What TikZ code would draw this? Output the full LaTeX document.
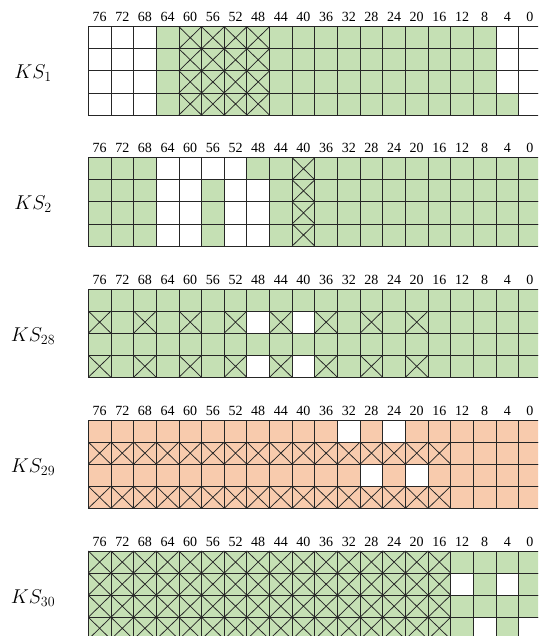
\RequirePackage{fix-cm}
\documentclass[tikz,border=0pt]{standalone}
\usepackage{fontspec}
\setmainfont{Liberation Serif}
\definecolor{kgreen}{HTML}{C5E0B4}
\definecolor{korange}{HTML}{F8CBAD}
\tikzset{
  cellbox/.style={draw=black!85, line width=0.75pt},
  collab/.style={inner sep=0pt, anchor=base, font=\fontsize{14}{16}\selectfont},
  kslab/.style={inner sep=0pt, anchor=base, font=\fontsize{20}{24}\selectfont}
}
\newcommand{\kgrid}[5]{%
  \colorlet{cellfill}{#3}%
  \foreach \rw [count=\r from 0] in {#4} {
    \foreach \c [count=\i from 0] in \rw {
      \pgfmathsetmacro\xx{88.3+\i*22.65}
      \pgfmathsetmacro\yy{#2+\r*22.08}
      \if w\c \draw[cellbox, fill=white] (\xx,\yy) rectangle ++(22.65,22.08);\fi
      \if g\c \draw[cellbox, fill=cellfill] (\xx,\yy) rectangle ++(22.65,22.08);\fi
      \if x\c \draw[cellbox, fill=cellfill] (\xx,\yy) rectangle ++(22.65,22.08);
              \draw[cellbox] (\xx,\yy) -- ++(22.65,22.08) (\xx+22.65,\yy) -- ++(-22.65,22.08);\fi
    }
  }
  \foreach \lab [count=\i from 0] in {76,72,...,0} {
    \node[collab] (#1-l\i) at (88.3+\i*22.65+11.325, #2-4.8) {\lab};
  }
  \node[kslab] (#1) at (33, #2+52) {$KS_{#5}$};
}
\begin{document}
\begin{tikzpicture}[x=1pt,y=-1pt]
\useasboundingbox (0,0) rectangle (538,636);
\clip (0,0) rectangle (538,636);
\kgrid{ks1}{26.7}{kgreen}{
 {w,w,w,g,x,x,x,x,g,g,g,g,g,g,g,g,g,g,w,w},
 {w,w,w,g,x,x,x,x,g,g,g,g,g,g,g,g,g,g,w,w},
 {w,w,w,g,x,x,x,x,g,g,g,g,g,g,g,g,g,g,w,w},
 {w,w,w,g,x,x,x,x,g,g,g,g,g,g,g,g,g,g,g,w}}{1}
\kgrid{ks2}{157.7}{kgreen}{
 {g,g,g,w,w,w,w,g,g,x,g,g,g,g,g,g,g,g,g,g},
 {g,g,g,w,w,g,w,w,g,x,g,g,g,g,g,g,g,g,g,g},
 {g,g,g,w,w,g,w,w,g,x,g,g,g,g,g,g,g,g,g,g},
 {g,g,g,w,w,g,w,w,g,x,g,g,g,g,g,g,g,g,g,g}}{2}
\kgrid{ks28}{289.0}{kgreen}{
 {g,g,g,g,g,g,g,g,g,g,g,g,g,g,g,g,g,g,g,g},
 {x,g,x,g,x,g,x,w,x,w,x,g,x,g,x,g,g,g,g,g},
 {g,g,g,g,g,g,g,g,g,g,g,g,g,g,g,g,g,g,g,g},
 {x,g,x,g,x,g,x,w,x,w,x,g,x,g,x,g,g,g,g,g}}{28}
\kgrid{ks29}{420.0}{korange}{
 {g,g,g,g,g,g,g,g,g,g,g,w,g,w,g,g,g,g,g,g},
 {x,x,x,x,x,x,x,x,x,x,x,x,x,x,x,x,g,g,g,g},
 {g,g,g,g,g,g,g,g,g,g,g,g,w,g,w,g,g,g,g,g},
 {x,x,x,x,x,x,x,x,x,x,x,x,x,x,x,x,g,g,g,g}}{29}
\kgrid{ks30}{551.0}{kgreen}{
 {x,x,x,x,x,x,x,x,x,x,x,x,x,x,x,x,g,g,g,g},
 {x,x,x,x,x,x,x,x,x,x,x,x,x,x,x,x,w,g,w,g},
 {x,x,x,x,x,x,x,x,x,x,x,x,x,x,x,x,g,g,g,g},
 {x,x,x,x,x,x,x,x,x,x,x,x,x,x,x,x,g,w,g,w}}{30}
\end{tikzpicture}
\end{document}
